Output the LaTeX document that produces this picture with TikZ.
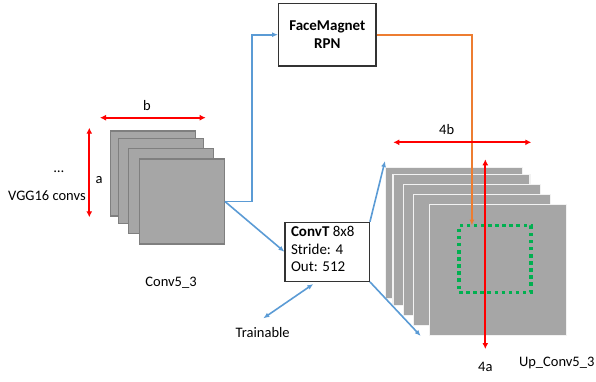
\documentclass[tikz,border=0pt]{standalone}
\usepackage{fontspec}
\setmainfont{Carlito}
\usetikzlibrary{arrows.meta}
\definecolor{cblue}{HTML}{5B9BD5}
\definecolor{corange}{HTML}{ED7D31}
\definecolor{cgreen}{HTML}{00B050}
\definecolor{sqfill}{HTML}{A6A6A6}
\definecolor{sqedge}{HTML}{7F7F7F}
\begin{document}
\begin{tikzpicture}[x=1pt,y=-1pt,
  font=\fontsize{14.5}{17}\selectfont,
  lsq/.style={draw=sqedge, fill=sqfill, line width=1.3pt, minimum width=85pt, minimum height=85pt, inner sep=0pt},
  rsq/.style={draw=white!85!sqfill, fill=sqfill, line width=1.3pt, minimum width=137pt, minimum height=131pt, inner sep=0pt},
  boxnode/.style={draw=black!80, fill=white, line width=1.2pt, inner sep=0pt},
  txt/.style={inner sep=0pt},
  bluearrow/.style={draw=cblue, line width=1.6pt, -{Latex[length=6pt,width=5pt]}},
  redarrow/.style={draw=red, line width=1.8pt, {Latex[length=6pt,width=6pt]}-{Latex[length=6pt,width=6pt]}},
]
\useasboundingbox (0,0) rectangle (596,381);

% left stack
\node[lsq] (l1) at (152.8,173.5) {};
\node[lsq] (l2) at (161,181) {};
\node[lsq] (l3) at (171,191.2) {};
\node[lsq] (l4) at (181.7,201.4) {};

% right stack
\node[rsq] (r1) at (453.7,232.8) {};
\node[rsq] (r2) at (461.5,240) {};
\node[rsq] (r3) at (472,250.3) {};
\node[rsq] (r4) at (482.2,260.3) {};
\node[rsq] (r5) at (498.3,270.2) {};

% green dotted region
\node[draw=cgreen, line width=3.5pt, dash pattern=on 3.5pt off 3.6pt, minimum width=71.7pt, minimum height=66.6pt, inner sep=0pt] (roi) at (494.9,259) {};

% boxes
\node[boxnode, minimum width=97.3pt, minimum height=62.7pt, align=center, font=\fontsize{15}{18}\selectfont\bfseries] (rpn) at (327.3,34.7) {FaceMagnet\\RPN};
\node[boxnode, text width=72.3pt, inner xsep=6pt, minimum height=59pt, align=flush left, font=\fontsize{15}{17.5}\selectfont] (convt) at (327.2,251.8) {\textbf{ConvT} 8x8\\Stride: 4\\Out: 512\strut};

% texts
\node[txt] (dots) at (59,172) {\dots};
\node[txt] (vgg) at (47,196) {VGG16 convs};
\node[txt] (la) at (99,180) {a};
\node[txt] (lb) at (147,106) {b};
\node[txt] (conv53) at (171,283) {Conv5\_3};
\node[txt] (train) at (262.7,332.3) {Trainable};
\node[txt] (l4b) at (446.7,130) {4b};
\node[txt] (l4a) at (485.3,367.3) {4a};
\node[txt] (up) at (556.7,363.3) {Up\_Conv5\_3};

% coordinates
\coordinate (bend) at (251.7,201.4);
\coordinate (oc) at (471.9,34.7);
\coordinate (ot) at (471.9,225.5);
\coordinate (tr) at (385,161);
\coordinate (br) at (420.7,336);
\coordinate (tsrc) at (313.3,284);
\coordinate (tdst) at (263.3,318.3);
\coordinate (aT) at (89.3,127.7);
\coordinate (aB) at (89.3,217.3);
\coordinate (bL) at (100,117.7);
\coordinate (bR) at (205.7,117.7);
\coordinate (fL) at (393.3,142.3);
\coordinate (fR) at (531.3,142.3);
\coordinate (gT) at (485.3,159.3);
\coordinate (gB) at (485.3,349);

% connectors
\draw[bluearrow] (l4.east) -- (bend) |- (rpn.west);
\draw[bluearrow] (l4.east) -- (convt.west);
\draw[bluearrow] (convt.north east) -- (tr);
\draw[bluearrow] (convt.south east) -- (br);
\draw[draw=cblue, line width=1.6pt, {Latex[length=6pt,width=5pt]}-{Latex[length=6pt,width=5pt]}] (tsrc) -- (tdst);
\draw[draw=corange, line width=1.6pt, -{Latex[length=6pt,width=5pt]}] (rpn.east) -- (oc) -- (ot);

% dimension arrows
\draw[redarrow] (aT) -- (aB);
\draw[redarrow] (bL) -- (bR);
\draw[redarrow] (fL) -- (fR);
\draw[redarrow] (gT) -- (gB);
\end{tikzpicture}
\end{document}
